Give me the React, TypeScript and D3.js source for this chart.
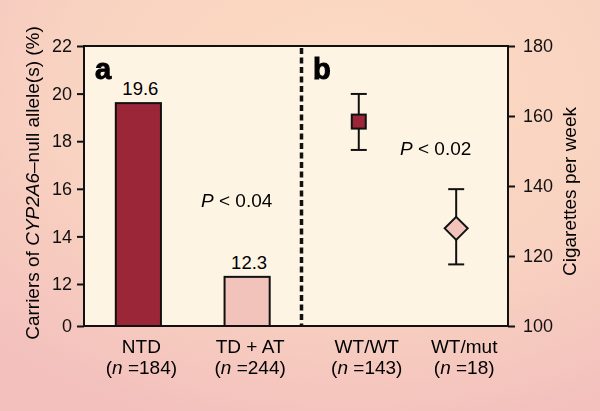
import React, { useEffect, useRef } from 'react';
import * as d3 from 'd3';

// panel a: carriers of null alleles (%)
const barCategories = ['NTD', 'TD + AT'];
const barCounts = [184, 244];
const barValues = [19.6, 12.3];
const leftTicks = [0, 12, 14, 16, 18, 20, 22];

// panel b: cigarettes per week, mean with error bars
const pointCategories = ['WT/WT', 'WT/mut'];
const pointCounts = [143, 18];
const pointMeans = [158.4, 127.9];
const pointUpper = [166.3, 139.1];
const pointLower = [150.3, 117.6];
const rightTicks = [100, 120, 140, 160, 180];

const DARK = '#9b2638';
const LIGHT = '#f2c3bb';
const FONT = '"Liberation Sans", Arial, Helvetica, sans-serif';

const App = () => {
  const svgRef = useRef<SVGSVGElement>(null);

  useEffect(() => {
    const svg = d3.select(svgRef.current);
    svg.selectAll('*').remove();

    const width = 600;
    const height = 411;
    const left = 84;
    const right = 508;
    const top = 46;
    const bottom = 326;
    const split = 301.5;

    svg.attr('width', width).attr('height', height).style('font-family', FONT);

    // background
    const defs = svg.append('defs');
    const grad = defs.append('radialGradient')
      .attr('id', 'bg')
      .attr('cx', '58%').attr('cy', '22%').attr('r', '85%');
    grad.append('stop').attr('offset', '0%').attr('stop-color', '#fcdbc2');
    grad.append('stop').attr('offset', '55%').attr('stop-color', '#f9d3c1');
    grad.append('stop').attr('offset', '100%').attr('stop-color', '#f3c0bd');
    svg.append('rect').attr('width', width).attr('height', height).attr('fill', 'url(#bg)');

    // plot area
    svg.append('rect')
      .attr('x', left).attr('y', top)
      .attr('width', right - left).attr('height', bottom - top)
      .attr('fill', '#fdf4e3');

    const yLeft = d3.scaleLinear().domain([0, 12, 22]).range([bottom, 284, top]);
    const yRight = d3.scaleLinear().domain([100, 180]).range([bottom, top]);

    const xLeft = d3.scalePoint<string>().domain(barCategories).range([left, split]).padding(0.5);
    const xRight = d3.scalePoint<string>().domain(pointCategories).range([split, right]).padding(0.56).align(0.525);

    const barWidth = xLeft.step() * 0.415;

    // bars
    svg.append('g').selectAll('rect')
      .data(barValues)
      .enter().append('rect')
      .attr('x', (d, i) => xLeft(barCategories[i])! - barWidth / 2)
      .attr('y', d => yLeft(d))
      .attr('width', barWidth)
      .attr('height', d => yLeft(0) - yLeft(d))
      .attr('fill', (d, i) => (i === 0 ? DARK : LIGHT))
      .attr('stroke', '#111')
      .attr('stroke-width', 2);

    svg.append('g').selectAll('text')
      .data(barValues)
      .enter().append('text')
      .attr('x', (d, i) => xLeft(barCategories[i])! + 2)
      .attr('y', d => yLeft(d) - 8)
      .attr('text-anchor', 'middle')
      .style('font-size', '18.5px')
      .text(d => d.toFixed(1));

    // error bars
    const capW = 16;
    const eb = svg.append('g').attr('stroke', '#111').attr('stroke-width', 2);
    pointCategories.forEach((c, i) => {
      const x = xRight(c)!;
      eb.append('line').attr('x1', x).attr('x2', x)
        .attr('y1', yRight(pointUpper[i])).attr('y2', yRight(pointLower[i]));
      eb.append('line').attr('x1', x - capW / 2).attr('x2', x + capW / 2)
        .attr('y1', yRight(pointUpper[i])).attr('y2', yRight(pointUpper[i]));
      eb.append('line').attr('x1', x - capW / 2).attr('x2', x + capW / 2)
        .attr('y1', yRight(pointLower[i])).attr('y2', yRight(pointLower[i]));
    });

    // markers
    const sq = 14;
    const x0 = xRight(pointCategories[0])!;
    svg.append('rect')
      .attr('x', x0 - sq / 2).attr('y', yRight(pointMeans[0]) - sq / 2)
      .attr('width', sq).attr('height', sq)
      .attr('fill', DARK).attr('stroke', '#111').attr('stroke-width', 2);

    const x1 = xRight(pointCategories[1])!;
    const dm = 11.5;
    const cy = yRight(pointMeans[1]);
    svg.append('path')
      .attr('d', `M${x1},${cy - dm}L${x1 + dm},${cy}L${x1},${cy + dm}L${x1 - dm},${cy}Z`)
      .attr('fill', LIGHT).attr('stroke', '#111').attr('stroke-width', 2);

    // dashed divider
    svg.append('line')
      .attr('x1', split).attr('x2', split)
      .attr('y1', top + 2).attr('y2', bottom)
      .attr('stroke', '#111').attr('stroke-width', 3.5)
      .attr('stroke-dasharray', '6 3.5');

    // frame
    svg.append('rect')
      .attr('x', left).attr('y', top)
      .attr('width', right - left).attr('height', bottom - top)
      .attr('fill', 'none').attr('stroke', '#111').attr('stroke-width', 2);

    // axes
    const axL = svg.append('g')
      .attr('transform', `translate(${left},0)`)
      .call(d3.axisLeft(yLeft).tickValues(leftTicks).tickSize(7).tickSizeOuter(0).tickPadding(5).tickFormat(d3.format('d')));
    const axR = svg.append('g')
      .attr('transform', `translate(${right},0)`)
      .call(d3.axisRight(yRight).tickValues(rightTicks).tickSize(7).tickSizeOuter(0).tickPadding(8).tickFormat(d3.format('d')));
    [axL, axR].forEach(ax => {
      ax.select('.domain').remove();
      ax.selectAll('line').attr('stroke', '#111').attr('stroke-width', 2);
      ax.selectAll('text').style('font-size', '18px').style('font-family', FONT).attr('fill', '#111');
    });

    // category labels
    const catLabel = (x: number, name: string, n: number) => {
      svg.append('text').attr('x', x).attr('y', 353)
        .attr('text-anchor', 'middle').style('font-size', '19px').text(name);
      const t = svg.append('text').attr('x', x).attr('y', 374)
        .attr('text-anchor', 'middle').style('font-size', '19px');
      t.append('tspan').text('(');
      t.append('tspan').attr('font-style', 'italic').text('n');
      t.append('tspan').text(` =${n})`);
    };
    barCategories.forEach((c, i) => catLabel(xLeft(c)! + 3, c, barCounts[i]));
    pointCategories.forEach((c, i) => catLabel(xRight(c)! + 8, c, pointCounts[i]));

    // panel letters
    svg.append('text').attr('x', 95).attr('y', 79)
      .style('font-size', '29px').style('font-weight', 'bold')
      .attr('stroke', '#000').attr('stroke-width', 1).text('a');
    svg.append('text').attr('x', 313).attr('y', 79)
      .style('font-size', '29px').style('font-weight', 'bold')
      .attr('stroke', '#000').attr('stroke-width', 1).text('b');

    // P values
    const pText = (x: number, y: number, s: string) => {
      const t = svg.append('text').attr('x', x).attr('y', y).style('font-size', '19px');
      t.append('tspan').attr('font-style', 'italic').text('P');
      t.append('tspan').text(` < ${s}`);
    };
    pText(201, 207, '0.04');
    pText(400, 155, '0.02');

    // axis titles
    const yl = svg.append('text')
      .attr('transform', 'translate(38.5,183) rotate(-90)')
      .attr('text-anchor', 'middle').style('font-size', '19px');
    yl.append('tspan').text('Carriers of ');
    yl.append('tspan').attr('font-style', 'italic').text('CYP2A6');
    yl.append('tspan').text('\u2013null allele(s) (%)');

    svg.append('text')
      .attr('transform', 'translate(576,191.5) rotate(-90)')
      .attr('text-anchor', 'middle').style('font-size', '19px')
      .text('Cigarettes per week');
  }, []);

  return (
    <div style={{ position: 'fixed', left: 0, top: 0 }}>
      <svg ref={svgRef} style={{ display: 'block' }}></svg>
    </div>
  );
};

export default App;
